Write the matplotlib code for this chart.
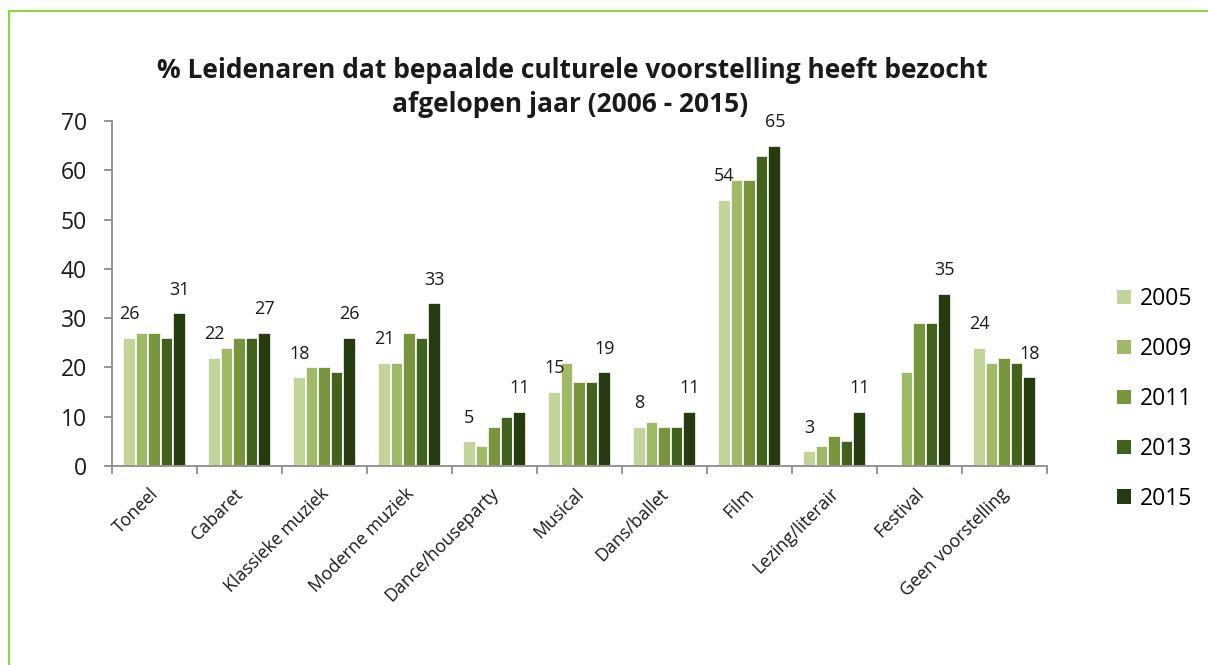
import numpy as np
import matplotlib
matplotlib.use("Agg")
import matplotlib.pyplot as plt
from matplotlib.patches import Rectangle, Patch
from matplotlib.ticker import FixedLocator
from matplotlib.transforms import ScaledTranslation

plt.rcParams['font.family'] = ['Open Sans', 'DejaVu Sans']

categories = ["Toneel", "Cabaret", "Klassieke muziek", "Moderne muziek",
              "Dance/houseparty", "Musical", "Dans/ballet", "Film",
              "Lezing/literair", "Festival", "Geen voorstelling"]
years = ["2005", "2009", "2011", "2013", "2015"]
v2005 = [26, 22, 18, 21, 5, 15, 8, 54, 3, np.nan, 24]
v2009 = [27, 24, 20, 21, 4, 21, 9, 58, 4, 19, 21]
v2011 = [27, 26, 20, 27, 8, 17, 8, 58, 6, 29, 22]
v2013 = [26, 26, 19, 26, 10, 17, 8, 63, 5, 29, 21]
v2015 = [31, 27, 26, 33, 11, 19, 11, 65, 11, 35, 18]
series = [v2005, v2009, v2011, v2013, v2015]
colors = ["#C3D49B", "#9FB966", "#78953E", "#42611C", "#273B10"]
title_lines = ["% Leidenaren dat bepaalde culturele voorstelling heeft bezocht",
               "afgelopen jaar (2006 - 2015)"]

W, H = 1208, 665
fig = plt.figure(figsize=(W / 100, H / 100), dpi=100)
ax = fig.add_axes([112 / W, 1 - 466 / H, (1047 - 112) / W, (466 - 121) / H])

x = np.arange(len(categories))
bw = 0.149
for k, (vals, col) in enumerate(zip(series, colors)):
    pos = x + (k - 2) * bw
    ax.bar(pos, vals, width=bw, color=col, edgecolor="white", linewidth=1.2,
           label=years[k], zorder=2)
    if k in (0, 4):
        for p, v in zip(pos, vals):
            if not np.isnan(v):
                ax.annotate(f"{int(v)}", (p, v), xytext=(0, 17),
                            textcoords="offset points", ha="center", va="center",
                            fontsize=13, color="#1a1a1a")

ax.set_xlim(-0.5, len(categories) - 0.5)
ax.set_ylim(0, 70)
ax.set_yticks(range(0, 71, 10))
ax.tick_params(axis="y", labelsize=16.5, length=6, width=1.3, color="#8c8c8c",
               pad=12, labelcolor="#1a1a1a")
ax.set_xticks(x)
ax.set_xticklabels(categories, rotation=45, ha="right", va="top",
                   rotation_mode="anchor", fontsize=12.8, color="#1a1a1a")
ax.tick_params(axis="x", which="major", length=0, pad=12)
off = ScaledTranslation(-5 / 100, -2 / 100, fig.dpi_scale_trans)
for lab in ax.get_xticklabels():
    lab.set_transform(lab.get_transform() + off)
ax.xaxis.set_minor_locator(FixedLocator(np.arange(-0.5, len(categories), 1.0)))
ax.tick_params(axis="x", which="minor", length=6, width=1.3, color="#8c8c8c")
for s in ("top", "right"):
    ax.spines[s].set_visible(False)
for s in ("left", "bottom"):
    ax.spines[s].set_color("#8c8c8c")
    ax.spines[s].set_linewidth(1.3)

fig.text(572 / W, 1 - 70 / H, title_lines[0], ha="center", va="center",
         fontsize=19, fontweight="bold", color="#1a1a1a")
fig.text(570 / W, 1 - 105 / H, title_lines[1], ha="center", va="center",
         fontsize=19, fontweight="bold", color="#1a1a1a")

handles = [Patch(facecolor=c, edgecolor="none") for c in colors]
fig.legend(handles, years, loc="center left", bbox_to_anchor=(1108 / W, 1 - 399 / H),
           frameon=False, fontsize=16.5, handlelength=0.6, handleheight=0.6,
           handletextpad=0.4, labelspacing=1.13, borderaxespad=0)

fig.patches.append(Rectangle((9 / W, -0.1), 1.2, 1 - 11 / H + 0.1,
                             transform=fig.transFigure, fill=False,
                             edgecolor="#92D050", linewidth=1.6))

fig.savefig("out.png", dpi=100)
